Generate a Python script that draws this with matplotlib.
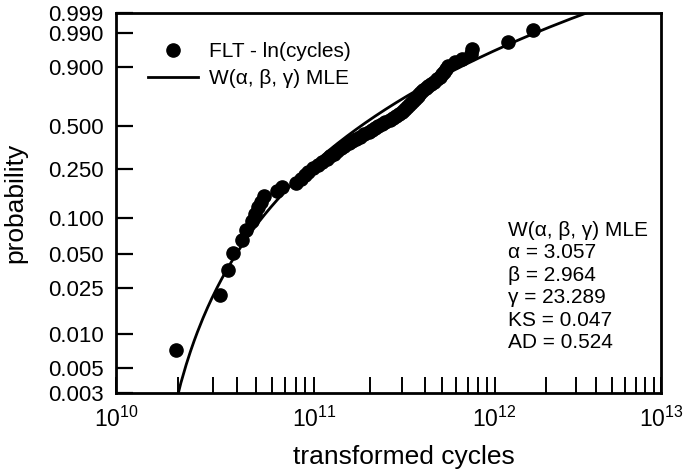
import numpy as np
import matplotlib
matplotlib.use("Agg")
import matplotlib.pyplot as plt
from matplotlib.lines import Line2D

# ---- data ----
cycles = [1.96e10, 3.26e10, 3.58e10, 3.80e10, 4.22e10, 4.43e10, 4.75e10, 4.92e10,
          5.10e10, 5.29e10, 5.48e10, 6.40e10, 6.79e10, 8.04e10, 8.54e10, 8.97e10,
          9.30e10, 9.88e10, 1.05e11, 1.10e11, 1.17e11, 1.22e11, 1.28e11, 1.33e11,
          1.39e11, 1.45e11, 1.54e11, 1.60e11, 1.68e11, 1.76e11, 1.85e11, 1.97e11,
          2.05e11, 2.13e11, 2.21e11, 2.32e11, 2.41e11, 2.57e11, 2.67e11, 2.77e11,
          2.88e11, 2.99e11, 3.07e11, 3.15e11, 3.23e11, 3.32e11, 3.40e11, 3.49e11,
          3.58e11, 3.67e11, 3.72e11, 3.82e11, 3.92e11, 4.07e11, 4.18e11, 4.34e11,
          4.51e11, 4.69e11, 4.88e11, 5.01e11, 5.14e11, 5.27e11, 5.41e11, 5.93e11,
          6.50e11, 7.31e11, 7.41e11, 1.20e12, 1.67e12]

prob_ticks = [0.003, 0.005, 0.010, 0.025, 0.050, 0.100, 0.250, 0.500, 0.900, 0.990, 0.999]
x_major = [1e10, 1e11, 1e12, 1e13]
x_major_labels = [r"$10^{10}$", r"$10^{11}$", r"$10^{12}$", r"$10^{13}$"]
x_minor = [m * d for d in (1e10, 1e11, 1e12) for m in range(2, 10)]

# parameters printed on the chart
alpha_p, beta_p, gamma_p = 3.057, 2.964, 23.289
ks_stat, ad_stat = 0.047, 0.524
# shape of the drawn fit line as it appears in the picture
curve_alpha, curve_beta, curve_gamma = 2.956, 3.037, 23.289

plt.rcParams['font.family'] = ['Liberation Sans', 'DejaVu Sans']
plt.rcParams['mathtext.fontset'] = 'custom'
plt.rcParams['mathtext.rm'] = 'Liberation Sans'
plt.rcParams['mathtext.it'] = 'Liberation Sans:italic'
plt.rcParams['mathtext.bf'] = 'Liberation Sans:bold'

W, H = 685, 475
fig = plt.figure(figsize=(W / 100, H / 100), dpi=100)
L, R, T, B = 116, 661, 13, 393
ax = fig.add_axes([L / W, 1 - B / H, (R - L) / W, (B - T) / H])


def fx(x):
    x = np.asarray(x, dtype=float)
    with np.errstate(all='ignore'):
        return np.log(np.log(np.clip(x, 1.0001, None)))


def ix(y):
    y = np.asarray(y, dtype=float)
    return np.exp(np.exp(np.clip(y, -5, 4)))


def fy(p):
    p = np.asarray(p, dtype=float)
    p = np.clip(p, 1e-12, 1 - 1e-12)
    return np.log(-np.log1p(-p))


def iy(y):
    y = np.asarray(y, dtype=float)
    return 1 - np.exp(-np.exp(np.clip(y, -30, 4)))


ax.set_xscale('function', functions=(fx, ix))
ax.set_yscale('function', functions=(fy, iy))

# empirical plotting positions (Hazen) for the sorted data
xs = np.sort(np.array(cycles))
n = len(xs)
probs = (np.arange(1, n + 1) - 0.5) / n

# fitted 3-parameter Weibull on ln(cycles)
pc = np.linspace(0.002, 0.9995, 600)
xc = np.exp(curve_gamma + curve_alpha * (-np.log1p(-pc)) ** (1 / curve_beta))

ax.plot(xc, pc, color='black', lw=2.0, zorder=2)
ax.plot(xs, probs, 'o', color='black', ms=9.5, zorder=3)

ax.set_xlim(1e10, 1e13)
ax.set_ylim(0.003, 0.999)

ax.set_yticks(prob_ticks)
ax.set_yticklabels([f"{v:.3f}" for v in prob_ticks])
ax.set_xticks(x_major)
ax.set_xticklabels(x_major_labels)
ax.set_xticks(x_minor, minor=True)
ax.set_yticks([], minor=True)

ax.tick_params(axis='y', which='major', direction='in', length=12, width=1.6,
               labelsize=16, pad=9, right=False)
ax.tick_params(axis='x', which='both', direction='in', length=11.5, width=1.4,
               top=False)
ax.tick_params(axis='x', which='major', labelsize=16.5, pad=10)

for s in ax.spines.values():
    s.set_linewidth(2.0)

ax.set_ylabel('probability', fontsize=19, va='center')
ax.yaxis.set_label_coords(-0.185, 0.5)
ax.set_xlabel('transformed cycles', fontsize=19, va='center')
ax.xaxis.set_label_coords(0.528, -0.168)

handles = [Line2D([], [], marker='o', ls='none', color='black', ms=9.5),
           Line2D([], [], color='black', lw=2.0)]
ax.legend(handles, ['FLT - ln(cycles)', 'W(\u03b1, \u03b2, \u03b3) MLE'],
          loc='upper left', bbox_to_anchor=((148 - L) / (R - L), (B - 42) / (B - T)),
          frameon=False, fontsize=15, borderpad=0, borderaxespad=0,
          handlelength=2.4, handletextpad=0.55, labelspacing=0.4, numpoints=1)

stats = ("W(\u03b1, \u03b2, \u03b3) MLE\n"
         f"\u03b1 = {alpha_p:.3f}\n"
         f"\u03b2 = {beta_p:.3f}\n"
         f"\u03b3 = {gamma_p:.3f}\n"
         f"KS = {ks_stat:.3f}\n"
         f"AD = {ad_stat:.3f}")
ax.text((508 - L) / (R - L), (B - 221) / (B - T), stats, transform=ax.transAxes,
        fontsize=15, va='top', ha='left', linespacing=1.23)

fig.savefig('out.png', dpi=100)
